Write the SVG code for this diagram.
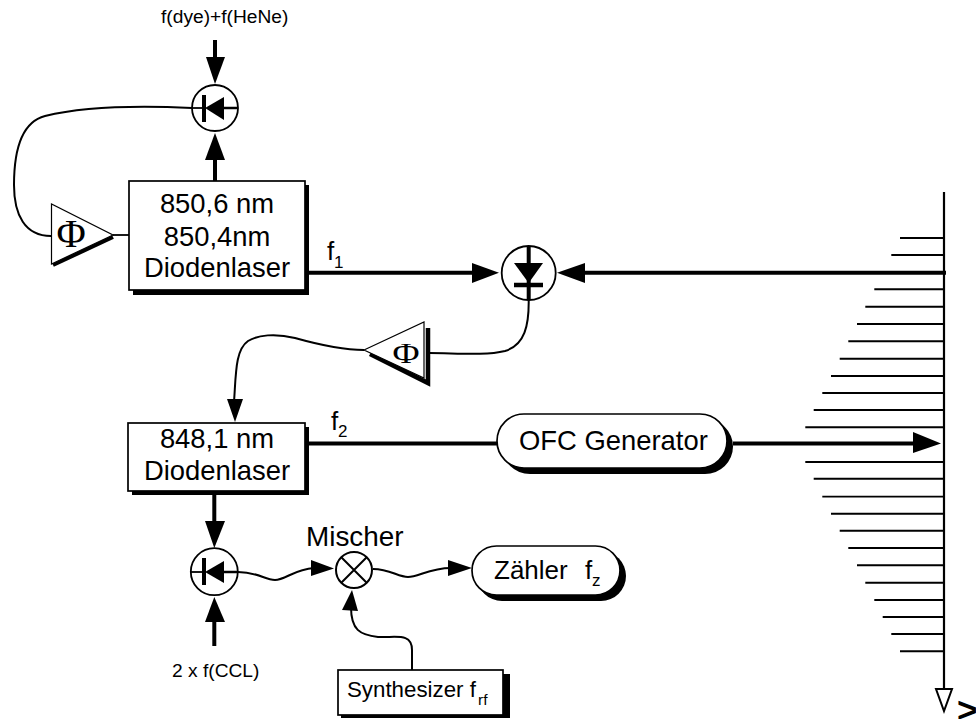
<svg xmlns="http://www.w3.org/2000/svg" width="976" height="719" viewBox="0 0 976 719">
<style>
text{font-family:"Liberation Sans",Arial,sans-serif;fill:#000}
.phi{font-family:"Liberation Serif","DejaVu Serif",serif;font-size:40px;text-anchor:middle}
.big{font-size:27.400px;text-anchor:middle}
.lab{font-size:19.200px}
.f{font-size:26px}
.sub{font-size:17px}
.box{fill:#fff;stroke:#000;stroke-width:1.700}
.sh{fill:#000}
.thick{fill:none;stroke:#000;stroke-width:4}
.thin{fill:none;stroke:#000;stroke-width:1.800}
.wire{fill:none;stroke:#000;stroke-width:2}
.comb{fill:none;stroke:#000;stroke-width:1.900}
.head{fill:#000;stroke:none}
</style>
<rect width="976" height="719" fill="#fff"/>
<g id="connectors">
<path class="thick" d="M215 40V62"/>
<polygon class="head" points="206,57 225,57 215,84"/>
<path class="thick" d="M215 181V156"/>
<polygon class="head" points="205,160 225,160 215,133"/>
<path class="wire" d="M192 108C150 106 90 105 45 116C22 122 14 150 14 185C14 215 25 236 51 236"/>
<path class="thin" d="M113 235H129"/>
<path class="thick" d="M309 272.700H476"/>
<polygon class="head" points="472,263 472,283 499,272.700"/>
<path class="thick" d="M946 272.700H581"/>
<polygon class="head" points="585,263 585,283 557,272.700"/>
<path class="wire" d="M528.700 300C529 325 525 345 505 351C485 356 455 353 429 353"/>
<path class="wire" d="M364 350C345 350 320 345 295 338C275 333 258 335 248 341C235 350 236 375 234 402"/>
<polygon class="head" points="227,399 243,399 235,422"/>
<path class="thick" d="M309 443.500H497"/>
<path class="thick" d="M733 443.500H916"/>
<polygon class="head" points="913,432 913,453 941,443.500"/>
<path class="thick" d="M214.300 491V524"/>
<polygon class="head" points="205,521 225,521 214.300,548"/>
<path class="thick" d="M214.300 646V618"/>
<polygon class="head" points="205,622 225,622 214.300,597"/>
<path class="wire" d="M238 572C258 572 265 580 275 580C285 580 295 569 314 568"/>
<polygon class="head" points="311,560 311,576 334,568.500"/>
<path class="wire" d="M373 569C390 569 398 577 408 577C418 577 430 568 451 568"/>
<polygon class="head" points="448,560 448,576 472,568"/>
<path class="wire" d="M412 670V650C412 632 395 638 378 637C360 635 351 630 351 607"/>
<polygon class="head" points="342,610 358,611 352,590"/>
</g>
<g id="comb">
<path class="wire" d="M944 192V690" style="stroke-width:2.200"/>
<path class="comb" d="M900 238H944M891.300 255H944M874.300 289.300H944M865.300 306.700H944M857 324H944M848.300 341.300H944M839.700 358.700H944M831 376H944M822.300 393H944M813.700 410H944M805.300 427.300H944M805.300 462H944M813.700 478.700H944M822.300 496.600H944M831 513.700H944M839.700 530.700H944M848.300 548H944M857 565.300H944M865.300 582.700H944M874.300 600H944M882.700 617H944M891.300 634H944M900 651.300H944"/>
<polygon points="936,689 952,689 944,711" fill="#fff" stroke="#000" stroke-width="2"/>
<text x="957" y="722" style="font-size:35px;font-weight:bold">&gt;</text>
</g>
<g id="detector1">
<circle cx="215" cy="108" r="23" fill="#fff" stroke="#000" stroke-width="1.800"/>
<path class="thick" d="M204 95V122"/>
<polygon class="head" points="205,108 224,97 224,120"/>
<path class="thick" d="M222 108H238" style="stroke-width:2.500"/>
<path class="thin" d="M192 108H204"/>
</g>
<g id="amp1">
<path d="M53 265L113 237" fill="none" stroke="#000" stroke-width="4"/>
<polygon points="51.500,204 51.500,264 113,235" fill="#fff" stroke="#000" stroke-width="1.200"/>
<text class="phi" x="71" y="247">Φ</text>
</g>
<g id="laser1">
<rect class="sh" x="133" y="185" width="176" height="110"/>
<rect class="box" x="129" y="181" width="176" height="109"/>
<text class="big" x="217" y="213">850,6 nm</text>
<text class="big" x="217" y="246">850,4nm</text>
<text class="big" x="217" y="277">Diodenlaser</text>
</g>
<g id="detector2">
<circle cx="528.700" cy="273" r="27" fill="#fff" stroke="#000" stroke-width="1.800"/>
<path class="thick" d="M528.700 247V300"/>
<polygon class="head" points="514,263 543,263 528.700,283"/>
<path class="thick" d="M514 285H543" style="stroke-width:4.500"/>
</g>
<g id="amp2">
<path d="M370 354L428 383V328" fill="none" stroke="#000" stroke-width="4.500"/>
<polygon points="364,350 424,322 424,378" fill="#fff" stroke="#000" stroke-width="1.200"/>
<text class="phi" transform="translate(406 363) scale(1 .8)" style="font-size:37px">Φ</text>
</g>
<g id="laser2">
<rect class="sh" x="132" y="427" width="177" height="68"/>
<rect class="box" x="128" y="423" width="177" height="68"/>
<text class="big" x="217" y="448">848,1 nm</text>
<text class="big" x="217" y="480">Diodenlaser</text>
</g>
<g id="ofc">
<rect class="sh" x="502" y="419" width="231" height="55" rx="28"/>
<rect class="box" x="497" y="414" width="230" height="54" rx="27"/>
<text x="519" y="450" style="font-size:27.400px">OFC Generator</text>
</g>
<g id="detector3">
<circle cx="214.300" cy="571.700" r="23.500" fill="#fff" stroke="#000" stroke-width="1.800"/>
<path class="thick" d="M204 558V585"/>
<polygon class="head" points="205,572 224,561 224,583"/>
<path d="M191 572H204" class="thin"/>
<path d="M222 572H238" class="thick" style="stroke-width:2.500"/>
</g>
<g id="mixer">
<circle cx="354" cy="570" r="18" fill="#fff" stroke="#000" stroke-width="2"/>
<path class="wire" d="M341.300 557.300L366.700 582.700M366.700 557.300L341.300 582.700"/>
<text x="306" y="546" style="font-size:27.900px">Mischer</text>
</g>
<g id="counter">
<rect class="sh" x="477" y="551" width="149" height="50" rx="25"/>
<rect class="box" x="472" y="546" width="148" height="49" rx="24.500"/>
<text x="494" y="579" style="font-size:26px">Zähler</text>
<text x="585" y="579" style="font-size:26px">f</text>
<text class="sub" x="592" y="586">z</text>
</g>
<g id="synth">
<rect class="sh" x="341" y="674" width="169" height="44"/>
<rect class="box" x="338" y="670" width="165" height="45"/>
<text x="347" y="697" style="font-size:22.300px">Synthesizer f</text>
<text x="478" y="705" style="font-size:15.500px">rf</text>
</g>
<g id="labels">
<text class="lab" x="161" y="23">f(dye)+f(HeNe)</text>
<text class="lab" x="172" y="677">2 x f(CCL)</text>
<text class="f" x="327" y="260">f</text>
<text class="sub" x="334" y="268">1</text>
<text class="f" x="331" y="430">f</text>
<text class="sub" x="338" y="437">2</text>
</g>
</svg>
